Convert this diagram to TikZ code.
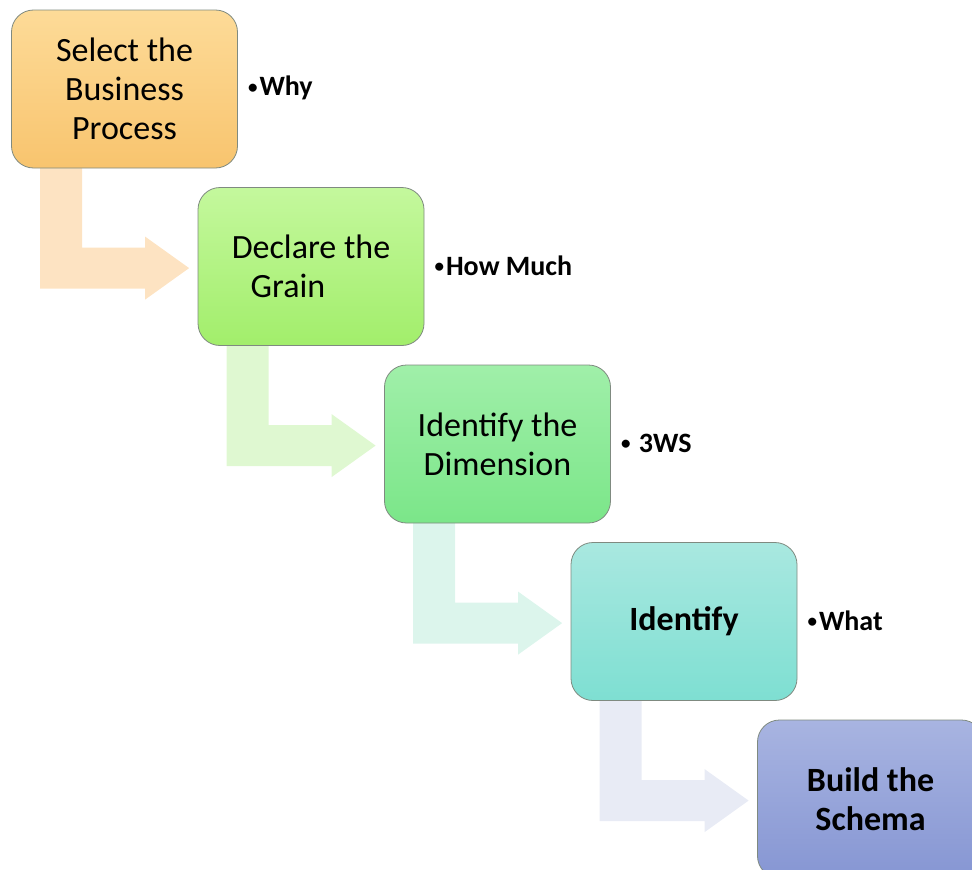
\documentclass[tikz,border=0pt]{standalone}
\usepackage{fontspec}
\setmainfont{Carlito}
\usetikzlibrary{calc,backgrounds}

% box fills (top / bottom of the vertical gradient)
\definecolor{oTop}{HTML}{FDDB98}
\definecolor{oBot}{HTML}{F8C46E}
\definecolor{gTop}{HTML}{C4F89D}
\definecolor{gBot}{HTML}{A2EE6B}
\definecolor{mTop}{HTML}{A0EFA9}
\definecolor{mBot}{HTML}{7BE689}
\definecolor{tTop}{HTML}{A9E8E0}
\definecolor{tBot}{HTML}{7EDFD2}
\definecolor{bTop}{HTML}{A8B4E1}
\definecolor{bBot}{HTML}{8696D3}
% pale bent arrows
\definecolor{oArrow}{HTML}{FDE3C2}
\definecolor{gArrow}{HTML}{DFF8D1}
\definecolor{mArrow}{HTML}{DCF5EC}
\definecolor{bArrow}{HTML}{E8EBF5}
\definecolor{boxedge}{HTML}{7F8A80}

% small bullet in front of the side notes
\newcommand\notebul{\raisebox{2.3pt}{\fontsize{19}{19}\selectfont•}\hspace{2pt}}

% bent arrow leaving the bottom of box #1 and pointing at the next box
\newcommand\bentarrow[2]{%
  \fill[#2] ($(#1.north west)+(29,158)$) -- ++(42,0) -- ++(0,80) -- ++(63,0)
    -- ++(0,-11) -- ++(44,31.5) -- ++(-44,31.5) -- ++(0,-11) -- ++(-105,0) -- cycle;}

\begin{document}
\begin{tikzpicture}[x=1pt,y=-1pt,
  stepbox/.style={rectangle, rounded corners=22pt, minimum width=226pt,
    minimum height=158pt, draw=boxedge, line width=0.8pt, align=center,
    inner sep=0pt, font=\fontsize{34}{39}\selectfont},
  boldbox/.style={stepbox, font=\fontsize{34}{39}\selectfont\bfseries},
  note/.style={anchor=west, inner sep=0pt, font=\fontsize{28}{32}\selectfont\bfseries}]
\clip (0,0) rectangle (972,870);

\node[stepbox, top color=oTop, bottom color=oBot] (b1) at (124.5,89)
  {Select the\\Business\\Process};
\node[stepbox, top color=gTop, bottom color=gBot] (b2) at (311,266.5)
  {Declare the\\Grain\hspace*{46pt}};
\node[stepbox, top color=mTop, bottom color=mBot] (b3) at (497.5,444)
  {Identify the\\Dimension};
\node[boldbox, top color=tTop, bottom color=tBot] (b4) at (684,621.5)
  {Identify};
\node[boldbox, top color=bTop, bottom color=bBot] (b5) at (870.5,799)
  {Build the\\Schema};

\node[note] (n1) at ($(b1.east)+(10,-1)$) {\notebul Why};
\node[note] (n2) at ($(b2.east)+(10,-1)$) {\notebul How Much};
\node[note] (n3) at ($(b3.east)+(10,-1)$) {\notebul\ 3WS};
\node[note] (n4) at ($(b4.east)+(10,-1)$) {\notebul What};

\begin{pgfonlayer}{background}
  \bentarrow{b1}{oArrow}
  \bentarrow{b2}{gArrow}
  \bentarrow{b3}{mArrow}
  \bentarrow{b4}{bArrow}
\end{pgfonlayer}
\end{tikzpicture}
\end{document}
